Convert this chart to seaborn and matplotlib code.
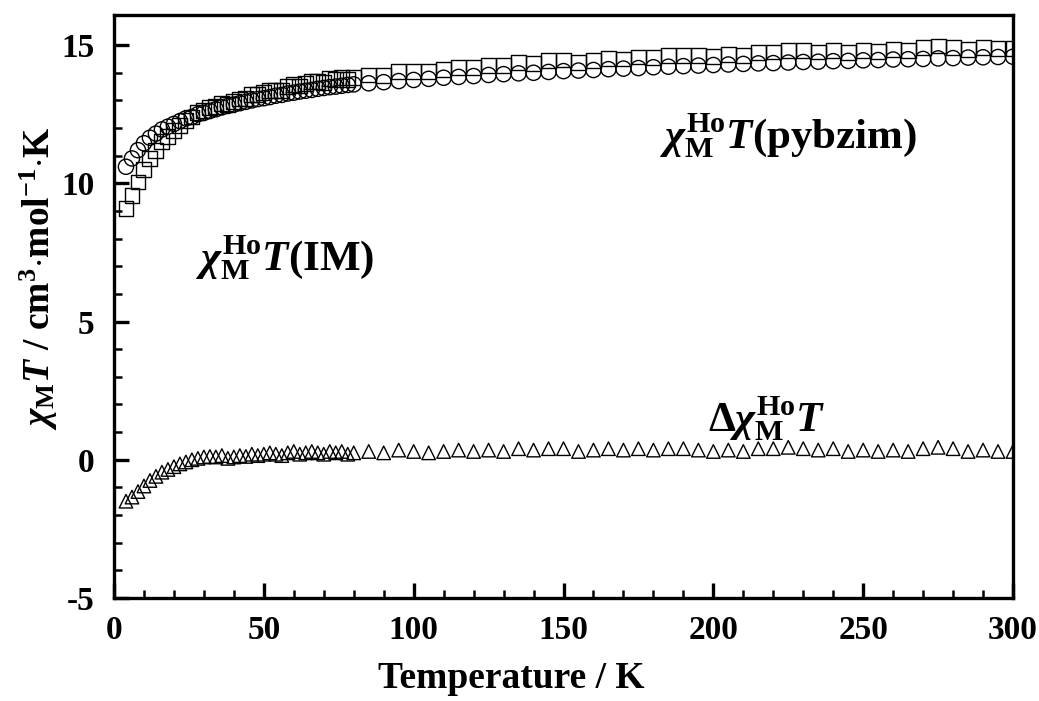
import matplotlib
matplotlib.use("Agg")
import matplotlib.pyplot as plt
import seaborn as sns
import pandas as pd

T = [4, 6, 8, 10, 12, 14, 16, 18, 20, 22, 24, 26, 28, 30, 32, 34, 36, 38, 40,
     42, 44, 46, 48, 50, 52, 54, 56, 58, 60, 62, 64, 66, 68, 70, 72, 74, 76, 78, 80,
     85, 90, 95, 100, 105, 110, 115, 120, 125, 130, 135, 140, 145, 150, 155, 160,
     165, 170, 175, 180, 185, 190, 195, 200, 205, 210, 215, 220, 225, 230, 235, 240,
     245, 250, 255, 260, 265, 270, 275, 280, 285, 290, 295, 300]

chiT_circles = [10.6, 10.9, 11.2, 11.45, 11.65, 11.8, 11.95, 12.05, 12.15, 12.25, 12.35,
                12.4, 12.5, 12.55, 12.62, 12.68, 12.75, 12.8, 12.85, 12.9, 12.95, 13.0,
                13.05, 13.08, 13.12, 13.17, 13.2, 13.25, 13.28, 13.32, 13.35, 13.38,
                13.42, 13.45, 13.48, 13.5, 13.53, 13.56, 13.58,
                13.62, 13.66, 13.7, 13.74, 13.78, 13.82, 13.85, 13.88, 13.92, 13.95,
                13.98, 14.0, 14.03, 14.06, 14.08, 14.1, 14.13, 14.15, 14.17, 14.2,
                14.22, 14.24, 14.26, 14.28, 14.3, 14.32, 14.34, 14.35, 14.37, 14.39,
                14.4, 14.42, 14.43, 14.45, 14.46, 14.48, 14.49, 14.5, 14.52, 14.53,
                14.55, 14.56, 14.57, 14.58]

chiT_squares = [9.1, 9.55, 10.05, 10.5, 10.9, 11.2, 11.5, 11.7, 11.9, 12.1, 12.27, 12.4,
                12.55, 12.65, 12.74, 12.78, 12.9, 12.85, 12.95, 13.05, 13.07, 13.2, 13.2,
                13.28, 13.37, 13.37, 13.35, 13.5, 13.58, 13.52, 13.6, 13.68, 13.67, 13.65,
                13.78, 13.75, 13.83, 13.76, 13.83,
                13.92, 13.91, 14.05, 14.04, 14.03, 14.12, 14.2, 14.18, 14.27, 14.25,
                14.38, 14.35, 14.43, 14.46, 14.38, 14.45, 14.53, 14.5, 14.57, 14.55,
                14.62, 14.64, 14.61, 14.58, 14.65, 14.62, 14.74, 14.75, 14.82, 14.79,
                14.75, 14.82, 14.73, 14.8, 14.76, 14.83, 14.79, 14.9, 14.97, 14.93,
                14.85, 14.91, 14.87, 14.88]

delta_chiT = [-1.5, -1.35, -1.15, -0.95, -0.75, -0.6, -0.45, -0.35, -0.25, -0.15, -0.08,
              0.0, 0.05, 0.1, 0.12, 0.1, 0.15, 0.05, 0.1, 0.15, 0.12, 0.2, 0.15, 0.2,
              0.25, 0.2, 0.15, 0.25, 0.3, 0.2, 0.25, 0.3, 0.25, 0.2, 0.3, 0.25, 0.3,
              0.2, 0.25,
              0.3, 0.25, 0.35, 0.3, 0.25, 0.3, 0.35, 0.3, 0.35, 0.3, 0.4, 0.35, 0.4,
              0.4, 0.3, 0.35, 0.4, 0.35, 0.4, 0.35, 0.4, 0.4, 0.35, 0.3, 0.35, 0.3,
              0.4, 0.4, 0.45, 0.4, 0.35, 0.4, 0.3, 0.35, 0.3, 0.35, 0.3, 0.4, 0.45,
              0.4, 0.3, 0.35, 0.3, 0.3]

sns.set_style("ticks")
plt.rcParams["font.family"] = ["Liberation Serif", "DejaVu Serif"]
plt.rcParams["font.weight"] = "bold"
plt.rcParams["mathtext.fontset"] = "custom"
plt.rcParams["mathtext.rm"] = "Liberation Serif:bold"
plt.rcParams["mathtext.it"] = "Liberation Serif:bold:italic"
plt.rcParams["mathtext.bf"] = "Liberation Serif:bold"
plt.rcParams["axes.unicode_minus"] = False
for key in ["text.color", "axes.labelcolor", "xtick.color", "ytick.color", "axes.edgecolor"]:
    plt.rcParams[key] = "black"

df = pd.DataFrame({"T": T, "circ": chiT_circles, "sq": chiT_squares, "delta": delta_chiT})

fig = plt.figure(figsize=(10.39, 7.01), dpi=100)
ax = fig.add_axes([0.1097, 0.147, 0.8653, 0.832])

common = dict(facecolor="none", edgecolor="black", linewidth=1.0, legend=False)
sns.scatterplot(data=df, x="T", y="sq", marker="s", s=115, ax=ax, **common)
sns.scatterplot(data=df, x="T", y="circ", marker="o", s=120, ax=ax, **common)
sns.scatterplot(data=df, x="T", y="delta", marker="^", s=95, ax=ax, **common)

ax.set_xlim(0, 300)
ax.set_ylim(-5, 16.1)
ax.set_xticks([0, 50, 100, 150, 200, 250, 300])
ax.set_xticks(range(0, 301, 10), minor=True)
ax.set_yticks([-5, 0, 5, 10, 15])
ax.set_yticks(range(-5, 16), minor=True)
ax.tick_params(axis="both", which="major", direction="in", length=11, width=2.4,
               labelsize=24)
ax.tick_params(axis="x", which="major", pad=12)
ax.tick_params(axis="y", which="major", pad=14)
ax.tick_params(axis="both", which="minor", direction="in", length=6, width=1.8)
ax.tick_params(top=False, right=False, which="both")
for lab in ax.get_xticklabels() + ax.get_yticklabels():
    lab.set_fontweight("bold")
for sp in ax.spines.values():
    sp.set_linewidth(2.4)

ax.set_xlabel("Temperature / K", fontsize=27, fontweight="bold", va="center", ha="center")
ax.xaxis.set_label_coords(0.442, -0.138)
ax.set_ylabel(r"$\chi_{\mathrm{M}}T\ \mathrm{/\ cm^{3}{\cdot}mol^{-1}{\cdot}K}$",
              fontsize=27, va="center", ha="center")
ax.yaxis.set_label_coords(-0.083, 0.548)

ax.text(225, 11.7, r"$\chi_{\mathrm{M}}^{\mathrm{Ho}}T\mathrm{(pybzim)}$",
        fontsize=31, ha="center", va="center")
ax.text(57, 7.3, r"$\chi_{\mathrm{M}}^{\mathrm{Ho}}T\mathrm{(IM)}$",
        fontsize=31, ha="center", va="center")
ax.text(218, 1.5, r"$\Delta\chi_{\mathrm{M}}^{\mathrm{Ho}}T$",
        fontsize=31, ha="center", va="center")

fig.savefig("out.png", dpi=100)
